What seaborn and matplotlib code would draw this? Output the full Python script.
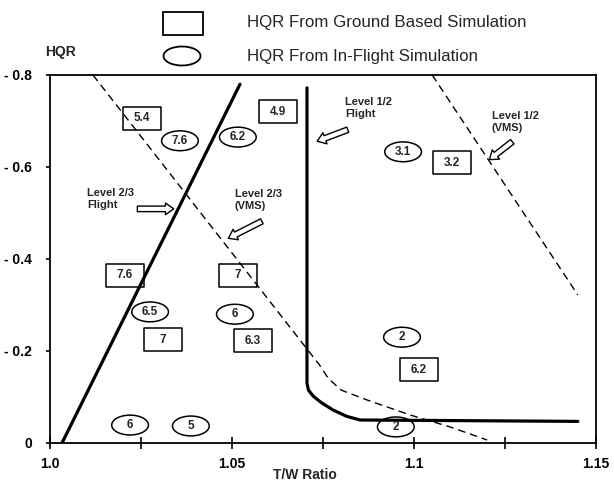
import numpy as np
import matplotlib
matplotlib.use("Agg")
import matplotlib.pyplot as plt
from matplotlib.path import Path
from matplotlib.patches import Rectangle, Ellipse
import seaborn as sns

# ---------------- data ----------------
ground_x = [1.0253, 1.0626, 1.1104, 1.0206, 1.0516, 1.0310, 1.0558, 1.1014]
ground_y = [0.706, 0.720, 0.609, 0.365, 0.365, 0.224, 0.222, 0.159]
ground_lbl = ["5.4", "4.9", "3.2", "7.6", "7", "7", "6.3", "6.2"]

flight_x = [1.0357, 1.0516, 1.0970, 1.0275, 1.0508, 1.0220, 1.0387, 1.0967, 1.0950]
flight_y = [0.657, 0.665, 0.633, 0.285, 0.280, 0.039, 0.037, 0.230, 0.035]
flight_lbl = ["7.6", "6.2", "3.1", "6.5", "6", "6", "5", "2", "2"]

l23_flight_x = [1.0033, 1.0522]
l23_flight_y = [0.0, 0.780]

l23_vms_x = [1.0118, 1.0740, 1.0765, 1.0800, 1.0871, 1.0989, 1.1099, 1.1201]
l23_vms_y = [0.800, 0.170, 0.140, 0.115, 0.0935, 0.061, 0.035, 0.0065]

l12_flight_x = [1.0706, 1.0706, 1.0710, 1.0723, 1.0745, 1.0777, 1.0815, 1.0852, 1.1450]
l12_flight_y = [0.772, 0.130, 0.115, 0.102, 0.088, 0.072, 0.058, 0.050, 0.047]

l12_vms_x = [1.1050, 1.1450]
l12_vms_y = [0.800, 0.322]

x_ticks = [1.0, 1.05, 1.1, 1.15]
x_tick_labels = ["1.0", "1.05", "1.1", "1.15"]
x_minor = [1.025, 1.075, 1.125]
y_ticks = [0.0, 0.2, 0.4, 0.6, 0.8]
y_tick_labels = ["0", "- 0.2", "- 0.4", "- 0.6", "- 0.8"]

# ---------------- style ----------------
sns.set_style("white")
plt.rcParams["font.family"] = ["Liberation Sans", "DejaVu Sans"]

fig = plt.figure(figsize=(6.14, 4.82), dpi=100)
ax = fig.add_axes([50 / 614, 39 / 482, 546 / 614, 368 / 482])

# marker shapes
rect_path = Path([(-1, -0.605), (1, -0.605), (1, 0.605), (-1, 0.605), (-1, -0.605)],
                 [Path.MOVETO, Path.LINETO, Path.LINETO, Path.LINETO, Path.CLOSEPOLY])
circ = Path.unit_circle()
ell_path = Path(circ.vertices * np.array([1.0, 0.54]), circ.codes)

sns.scatterplot(x=ground_x, y=ground_y, marker=rect_path, s=750,
                facecolor="none", edgecolor="black", linewidth=1.1, ax=ax, zorder=2)
sns.scatterplot(x=flight_x, y=flight_y, marker=ell_path, s=700,
                facecolor="none", edgecolor="black", linewidth=1.1, ax=ax, zorder=2)

for x, y, t in zip(ground_x, ground_y, ground_lbl):
    ax.text(x, y, t, ha="center", va="center", fontsize=8.5, fontweight="bold", zorder=4)
for x, y, t in zip(flight_x, flight_y, flight_lbl):
    ax.text(x, y, t, ha="center", va="center", fontsize=8.5, fontweight="bold", zorder=4)

sns.lineplot(x=l23_flight_x, y=l23_flight_y, estimator=None, sort=False,
             color="black", lw=2.3, ax=ax, zorder=3)
sns.lineplot(x=l12_flight_x, y=l12_flight_y, estimator=None, sort=False,
             color="black", lw=2.3, ax=ax, zorder=3)
sns.lineplot(x=l23_vms_x, y=l23_vms_y, estimator=None, sort=False,
             color="black", lw=1.0, ax=ax, zorder=3, linestyle=(0, (5.5, 3.5)))
sns.lineplot(x=l12_vms_x, y=l12_vms_y, estimator=None, sort=False,
             color="black", lw=1.0, ax=ax, zorder=3, linestyle=(0, (5.5, 3.5)))

# annotations with hollow arrows
arrow_style = dict(arrowstyle="simple,head_length=0.6,head_width=0.85,tail_width=0.4",
                   fc="white", ec="black", lw=1.0, shrinkA=0, shrinkB=0)
ann_fs = 8
ax.text(1.0102, 0.530, "Level 2/3\nFlight", fontsize=ann_fs, fontweight="bold",
        va="center", ha="left", linespacing=1.25)
ax.annotate("", xy=(1.0340, 0.509), xytext=(1.0240, 0.509), arrowprops=arrow_style)

ax.text(1.0508, 0.528, "Level 2/3\n(VMS)", fontsize=ann_fs, fontweight="bold",
        va="center", ha="left", linespacing=1.25)
ax.annotate("", xy=(1.0490, 0.4450), xytext=(1.0582, 0.482), arrowprops=arrow_style)

ax.text(1.0810, 0.728, "Level 1/2\nFlight", fontsize=ann_fs, fontweight="bold",
        va="center", ha="left", linespacing=1.25)
ax.annotate("", xy=(1.0734, 0.6560), xytext=(1.0818, 0.681), arrowprops=arrow_style)

ax.text(1.1214, 0.698, "Level 1/2\n(VMS)", fontsize=ann_fs, fontweight="bold",
        va="center", ha="left", linespacing=1.25)
ax.annotate("", xy=(1.1207, 0.616), xytext=(1.1270, 0.655), arrowprops=arrow_style)

# axes
ax.set_xlim(1.0, 1.15)
ax.set_ylim(0.0, 0.8)
ax.set_xticks(x_ticks)
ax.set_xticklabels(x_tick_labels, fontsize=10, fontweight="bold")
ax.set_xticks(x_minor, minor=True)
ax.set_yticks(y_ticks)
ax.set_yticklabels(y_tick_labels, fontsize=10, fontweight="bold")
ax.tick_params(axis="x", which="both", direction="inout", length=8, width=1.2,
               pad=6, colors="black", bottom=True)
ax.tick_params(axis="y", which="both", direction="out", length=3, width=1.2,
               pad=10, colors="black", left=True)
for sp in ax.spines.values():
    sp.set_visible(True)
    sp.set_color("black")
    sp.set_linewidth(1.3)
ax.set_xlabel("")
ax.set_ylabel("")
ax.grid(False)

fig.text(305 / 614, 1 - 475 / 482, "T/W Ratio", ha="center", va="center",
         fontsize=10, fontweight="bold")
fig.text(60 / 614, 1 - 52 / 482, "HQR", ha="center", va="center",
         fontsize=10, fontweight="bold")

# legend (top)
fig.patches.append(Rectangle((163 / 614, 1 - 35 / 482), 40 / 614, 23 / 482,
                             transform=fig.transFigure, fill=False, ec="black", lw=1.3))
fig.patches.append(Ellipse((182 / 614, 1 - 56 / 482), 37 / 614, 19 / 482,
                           transform=fig.transFigure, fill=False, ec="black", lw=1.3))
fig.text(247 / 614, 1 - 23 / 482, "HQR From Ground Based Simulation", ha="left",
         va="center", fontsize=12.2)
fig.text(247 / 614, 1 - 57 / 482, "HQR From In-Flight Simulation", ha="left",
         va="center", fontsize=12.2)

fig.savefig("out.png", dpi=100)
